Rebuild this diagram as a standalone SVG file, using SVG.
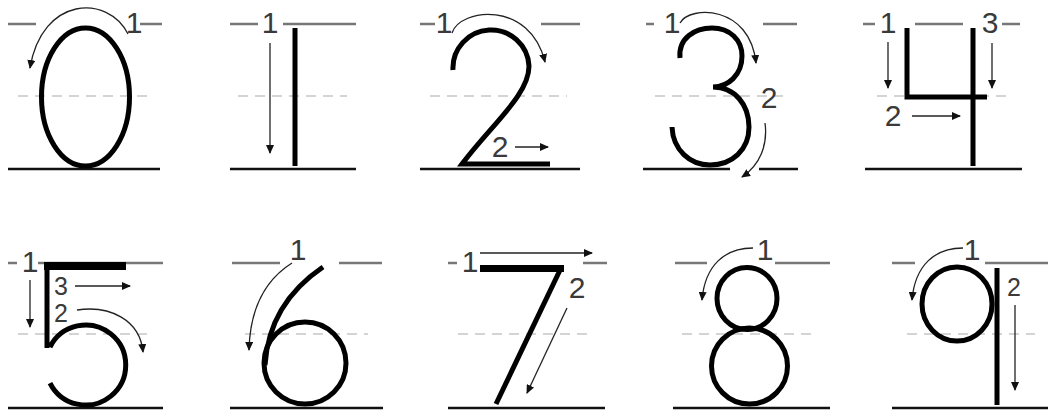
<svg xmlns="http://www.w3.org/2000/svg" width="1049" height="415" viewBox="0 0 1049 415">
<style>
.top{stroke:#777;stroke-width:2.5;fill:none}
.mid{stroke:#aaa;stroke-width:1.2;stroke-dasharray:10 7;fill:none}
.base{stroke:#111;stroke-width:2.5;fill:none}
.dg{stroke:#000;fill:none;stroke-width:5}
.ar{stroke:#222;stroke-width:1.3;fill:none;marker-end:url(#ah)}
.lb{font-family:"Liberation Sans",Arial,sans-serif;font-size:30px;fill:#3a3a3a;text-anchor:middle}
.ls{font-size:25px}
</style>
<defs>
<marker id="ah" markerUnits="userSpaceOnUse" markerWidth="10" markerHeight="8" refX="8" refY="4" orient="auto">
<path d="M0,0 L9,4 L0,8 z" fill="#111"/>
</marker>
</defs>
<rect width="1049" height="415" fill="#fff"/>
<g id="guides">
<path class="top" d="M8,24H36M140,24H162M230,24H258M283,24H356M420,24H435M541,24H580M646,24H654M763,24H797M863,24H875M915,24H963M1002,24H1020"/>
<path class="top" d="M8,263H17M38,263H163M232,263H280M339,263H382M448,263H457M583,263H607M675,263H707M775,263H830M892,263H915M985,263H1048"/>
<path class="mid" d="M18,96H147M238,96H347M430,96H567M655,96H783M877,96H1007"/>
<path class="mid" d="M18,334H150M245,334H368M458,334H593M682,334H813M907,334H1035"/>
<path class="base" d="M8,169H160M230,169H356M420,169H580M643,169H730M759,169H798M865,169H1022"/>
<path class="base" d="M8,408H163M230,408H383M448,408H605M673,408H830M892,408H1048"/>
</g>
<g id="digit0">
<ellipse class="dg" cx="85.5" cy="97" rx="44" ry="69"/>
<text class="lb" x="134" y="33">1</text>
</g>
<g id="digit1">
<line class="dg" x1="295" y1="28" x2="295" y2="166" stroke-width="6"/>
<text class="lb" x="270" y="33">1</text>
</g>
<g id="digit2">
<path class="dg" d="M453,70 A38,38 0 0 1 529,66 C529,95 492,124 462,164 L550,164"/>
<text class="lb" x="444" y="33">1</text>
<text class="lb" x="500" y="157">2</text>
</g>
<g id="digit3">
<path class="dg" stroke-width="4.5" d="M680,58 C678,38 695,28 712,28 C730,28 742,40 742,56 C742,75 728,87 713,87 C735,87 749,105 749,127 C749,150 732,165 710,165 C690,165 673,150 672,127"/>
<text class="lb" x="672" y="33">1</text>
<text class="lb" x="769" y="108">2</text>
</g>
<g id="digit4">
<path class="dg" stroke-width="6" d="M907,28 L907,97 L987,97 M973,28 L973,166"/>
<text class="lb" x="888" y="33">1</text>
<text class="lb" x="990" y="33">3</text>
<text class="lb" x="893" y="126">2</text>
</g>
<g id="digit5">
<rect x="44" y="262" width="82" height="8" fill="#000"/>
<path class="dg" d="M47,263 L47,348 M50,347 A40,40 0 1 1 50,383"/>
<text class="lb" x="30" y="272">1</text>
<text class="lb ls" x="61" y="295">3</text>
<text class="lb ls" x="61" y="322">2</text>
</g>
<g id="digit6">
<circle class="dg" cx="305" cy="363" r="41"/>
<path class="dg" d="M323,267 C292,288 268,318 265,365"/>
<text class="lb" x="298" y="260">1</text>
</g>
<g id="digit7">
<rect x="480" y="265" width="84" height="7" fill="#000"/>
<line class="dg" x1="561" y1="268" x2="496" y2="404" stroke-width="6"/>
<text class="lb" x="470" y="272">1</text>
<text class="lb" x="577" y="298">2</text>
</g>
<g id="digit8">
<ellipse class="dg" cx="747" cy="298.5" rx="30" ry="31"/>
<circle class="dg" cx="749.5" cy="366" r="38"/>
<text class="lb" x="765" y="260">1</text>
</g>
<g id="digit9">
<ellipse class="dg" cx="957" cy="304" rx="35" ry="37"/>
<line class="dg" x1="997" y1="268" x2="997" y2="405" stroke-width="6"/>
<text class="lb" x="972" y="260">1</text>
<text class="lb ls" x="1014" y="296">2</text>
</g>
<g id="connectors">
<path class="ar" d="M128,34 C108,-6 42,-4 30,68"/>
<path class="ar" d="M270,43 L270,153"/>
<path class="ar" d="M452,33 C460,8 530,0 545,62"/>
<path class="ar" d="M515,147 L548,147"/>
<path class="ar" d="M680,23 C690,5 750,5 756,63"/>
<path class="ar" d="M765,123 C768,145 760,165 742,177"/>
<path class="ar" d="M888,42 L888,88"/>
<path class="ar" d="M992,43 L992,88"/>
<path class="ar" d="M912,116 L960,116"/>
<path class="ar" d="M30,280 L30,327"/>
<path class="ar" d="M75,286 L130,286"/>
<path class="ar" d="M77,310 C110,305 140,320 143,352"/>
<path class="ar" d="M292,263 C265,280 250,310 249,350"/>
<path class="ar" d="M480,253 L592,253"/>
<path class="ar" d="M567,308 L527,393"/>
<path class="ar" d="M753,248 C725,248 705,265 702,300"/>
<path class="ar" d="M963,248 C935,248 915,265 912,300"/>
<path class="ar" d="M1015,305 L1015,390"/>
</g>
</svg>
